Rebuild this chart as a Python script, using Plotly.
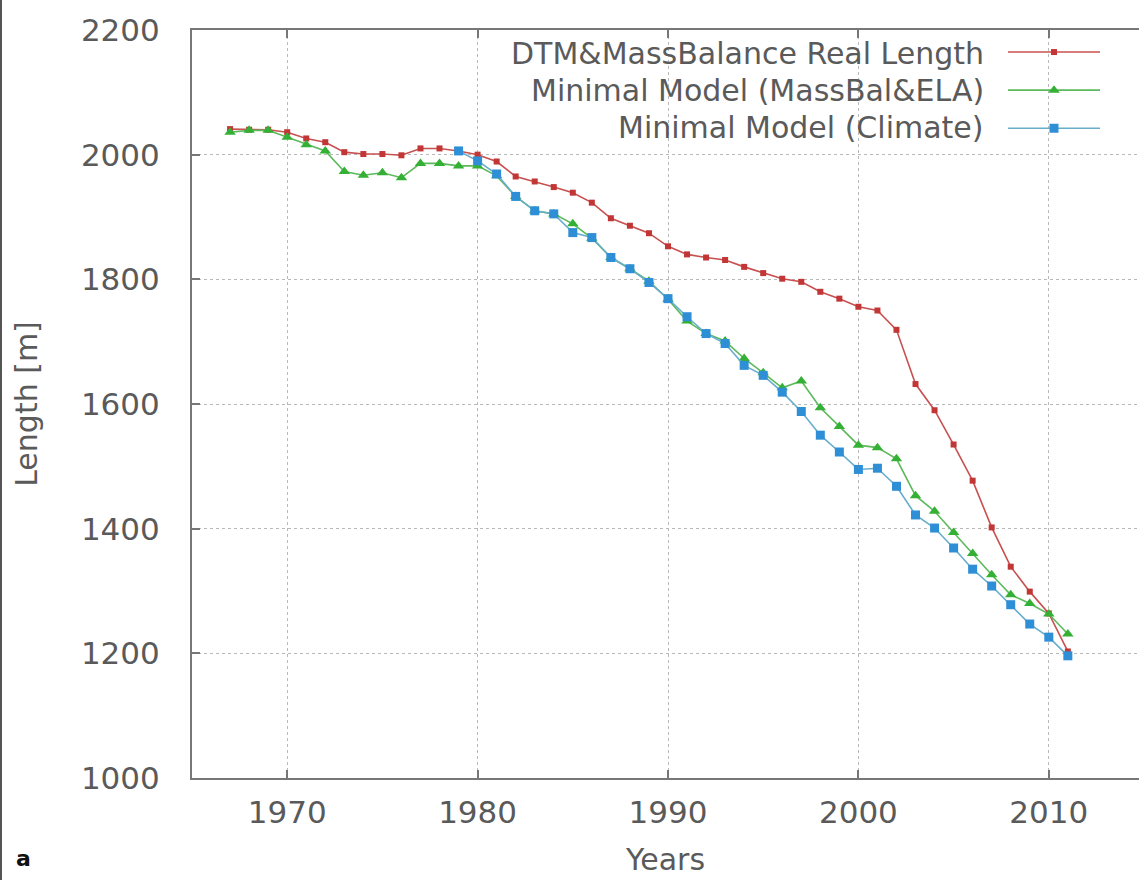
import plotly.graph_objects as go

years_full = list(range(1967, 2012))
years_climate = list(range(1979, 2012))

real_length = [2041, 2040, 2040, 2036, 2026, 2020, 2004, 2001, 2001, 1999,
               2010, 2010, 2006, 2000, 1989, 1965, 1957, 1948, 1939, 1923,
               1898, 1886, 1874, 1853, 1840, 1835, 1831, 1820, 1810, 1801,
               1796, 1780, 1769, 1756, 1750, 1719, 1632, 1590, 1535, 1477,
               1402, 1339, 1299, 1264, 1203]

massbal_ela = [2036, 2039, 2039, 2028, 2016, 2006, 1973, 1967, 1971, 1963,
               1986, 1986, 1982, 1982, 1966, 1933, 1910, 1905, 1889, 1866,
               1835, 1817, 1797, 1768, 1733, 1713, 1701, 1673, 1650, 1626,
               1637, 1594, 1564, 1534, 1530, 1512, 1453, 1428, 1394, 1360,
               1326, 1294, 1280, 1263, 1231]

climate = [2006, 1990, 1969, 1933, 1910, 1905, 1875, 1867, 1835, 1817,
           1795, 1769, 1740, 1713, 1697, 1662, 1646, 1619, 1588, 1550,
           1523, 1495, 1497, 1468, 1422, 1401, 1369, 1335, 1308, 1278,
           1247, 1226, 1196]

series_names = ["DTM&MassBalance Real Length",
                "Minimal Model (MassBal&ELA)",
                "Minimal Model (Climate)"]

x_ticks = [1970, 1980, 1990, 2000, 2010]
y_ticks = [1000, 1200, 1400, 1600, 1800, 2000, 2200]

W, H = 1139, 880
ML, MT, MB, MR = 192, 30, 102, 0
PW = W - ML - MR
PH = H - MT - MB
px_per_year = 19.04
x0 = 1965
x1 = x0 + PW / px_per_year

FONT = "DejaVu Sans"
TXT = "#5a5a5a"

fig = go.Figure()
fig.add_trace(go.Scatter(
    x=years_full, y=real_length, mode="lines+markers", name="",
    line=dict(color="#c85050", width=1.6),
    marker=dict(symbol="square", size=6, color="#c23636"),
    showlegend=True))
fig.add_trace(go.Scatter(
    x=years_full, y=massbal_ela, mode="lines+markers", name="",
    line=dict(color="#5cba5c", width=1.6),
    marker=dict(symbol="triangle-up", size=10, color="#34b034"),
    showlegend=True))
fig.add_trace(go.Scatter(
    x=years_climate, y=climate, mode="lines+markers", name="",
    line=dict(color="#68adcc", width=1.6),
    marker=dict(symbol="square", size=9, color="#2e8fd6"),
    showlegend=True))

# legend text, right-aligned to the left of the key samples
row_y = [53, 90, 128]
for name, yy in zip(series_names, row_y):
    fig.add_annotation(
        x=(986 - ML) / PW, y=1 - (yy - MT) / PH, xref="paper", yref="paper",
        text=name, showarrow=False, xanchor="right", yanchor="middle",
        font=dict(family=FONT, size=30, color=TXT))

fig.add_annotation(
    x=-ML / PW + 0.015, y=-(858 - MT - PH) / PH, xref="paper", yref="paper",
    text="<b>a</b>", showarrow=False, xanchor="left", yanchor="middle",
    font=dict(family=FONT, size=22, color="#111111"))

fig.add_shape(type="line", xref="paper", yref="paper",
              x0=-(ML - 1) / PW, x1=-(ML - 1) / PW,
              y0=-MB / PH, y1=1 + MT / PH,
              line=dict(color="#555555", width=2))

axis_common = dict(
    showline=True, linecolor="#777777", linewidth=2,
    ticks="inside", ticklen=8, tickcolor="#777777", tickwidth=1.5,
    showgrid=True, gridcolor="#b8b8b8", griddash="dot", gridwidth=1,
    zeroline=False,
    tickfont=dict(family=FONT, size=31, color=TXT),
    title_font=dict(family=FONT, size=30, color=TXT),
)

fig.update_xaxes(range=[x0, x1], tickvals=x_ticks, mirror="ticks",
                 ticklabelstandoff=6,
                 title_text="Years", title_standoff=20, **axis_common)
fig.update_yaxes(range=[1000, 2200], tickvals=y_ticks, mirror=False,
                 ticklabelstandoff=24,
                 title_text="Length [m]", title_standoff=34, **axis_common)

fig.update_layout(
    width=W, height=H,
    margin=dict(l=ML, r=MR, t=MT, b=MB),
    paper_bgcolor="white", plot_bgcolor="white",
    legend=dict(x=(1003 - ML) / PW, y=1 - (28 - MT) / PH,
                xanchor="left", yanchor="top",
                bgcolor="rgba(0,0,0,0)", itemwidth=92,
                tracegroupgap=0,
                font=dict(family=FONT, size=27, color=TXT)),
)

fig.write_html("out.html")
